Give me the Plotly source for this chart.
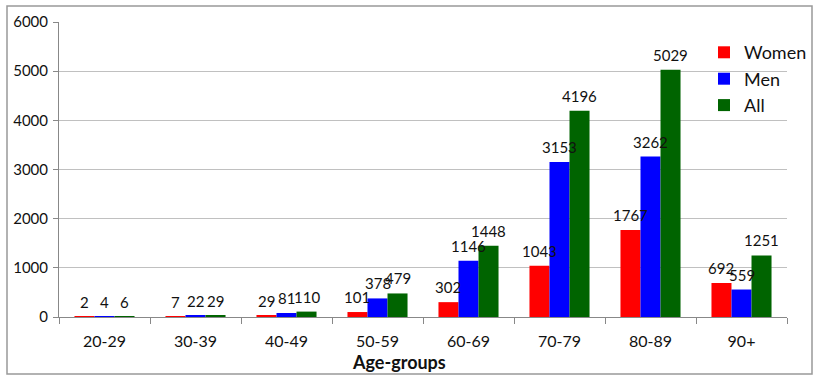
import plotly.graph_objects as go

categories = ["20-29", "30-39", "40-49", "50-59", "60-69", "70-79", "80-89", "90+"]
women = [2, 7, 29, 101, 302, 1043, 1767, 692]
men = [4, 22, 81, 378, 1146, 3153, 3262, 559]
all_ = [6, 29, 110, 479, 1448, 4196, 5029, 1251]
y_ticks = [0, 1000, 2000, 3000, 4000, 5000, 6000]

FONT = "Lato, Open Sans, sans-serif"
BARGAP = 0.34
series = [("Women", women, "#FF0000"), ("Men", men, "#0000FF"), ("All", all_, "#006400")]
bar_w = (1 - BARGAP) / len(series)

fig = go.Figure()
for k, (name, vals, col) in enumerate(series):
    fig.add_trace(go.Bar(
        x=categories, y=vals, name=name, marker_color=col, marker_line_width=0,
    ))
    # value labels as annotations so they sit above neighbouring bars
    for i, v in enumerate(vals):
        fig.add_annotation(
            x=i + (k - 1) * bar_w, y=v, xref="x", yref="y", text=str(v),
            showarrow=False, yanchor="bottom", xanchor="center", yshift=4,
            font=dict(size=15, color="#111111", family=FONT),
        )

fig.update_layout(
    width=819, height=381, autosize=False,
    margin=dict(l=59, r=32, t=22, b=64, autoexpand=False),
    paper_bgcolor="white", plot_bgcolor="white",
    barmode="group", bargap=BARGAP, bargroupgap=0,
    font=dict(family=FONT, color="#111111"),
    legend=dict(x=0.886, y=0.959, xanchor="left", yanchor="top",
                bgcolor="rgba(0,0,0,0)", font=dict(size=18, family=FONT),
                itemwidth=30, tracegroupgap=0),
    showlegend=True,
)
fig.update_xaxes(
    showline=True, linecolor="#888888", linewidth=1, automargin=False,
    ticks="outside", tickcolor="#888888", ticklen=6, tickson="boundaries",
    tickfont=dict(size=16, family=FONT), showgrid=False, ticklabelstandoff=10,
)
fig.update_yaxes(
    range=[0, 6000], tickvals=y_ticks, showline=True, linecolor="#888888", linewidth=1,
    ticks="outside", tickcolor="#888888", ticklen=5, automargin=False,
    gridcolor="#C0C0C0", gridwidth=1, tickfont=dict(size=15, family=FONT),
    zeroline=False, ticklabelstandoff=2,
)
fig.add_annotation(text="<b>Age-groups</b>", xref="paper", yref="paper",
                   x=(399 - 59) / 728, y=(317 - 362) / 295, showarrow=False,
                   font=dict(size=18, family=FONT), xanchor="center", yanchor="middle")
fig.add_shape(type="rect", xref="paper", yref="paper",
              x0=(7 - 59) / 728, x1=(812 - 59) / 728,
              y0=(317 - 374) / 295, y1=(317 - 6) / 295,
              line=dict(color="#999999", width=1.5), fillcolor="rgba(0,0,0,0)")

fig.write_html("out.html", config={"responsive": False, "displayModeBar": False},
               post_script="document.body.style.margin='0px';document.body.style.overflow='hidden';")
